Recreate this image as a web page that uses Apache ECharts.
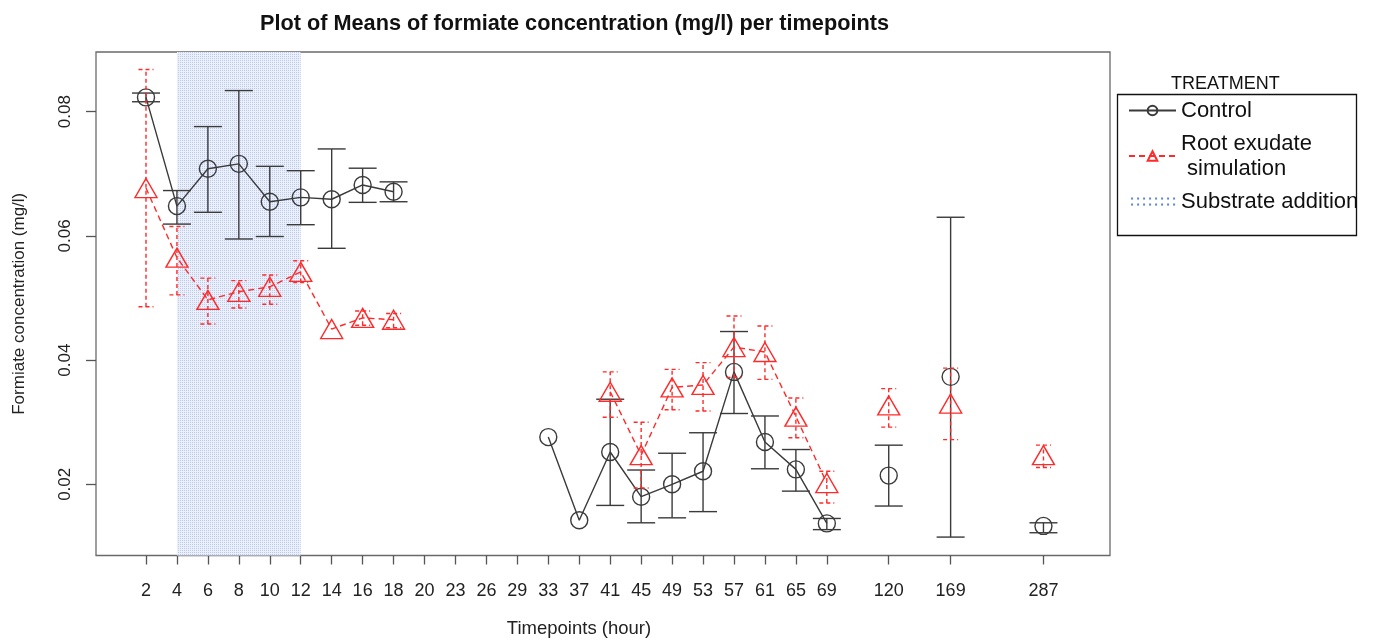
<!DOCTYPE html>
<html><head><meta charset="utf-8">
<script src="https://cdn.jsdelivr.net/npm/echarts@6/dist/echarts.min.js"></script>
<style>html,body{margin:0;padding:0;background:#fff}#c{width:1375px;height:642px}</style>
</head><body><div id="c"></div>
<script>
// ---- data ----
const timepoints = ['2','4','6','8','10','12','14','16','18','20','23','26','29','33','37','41','45','49','53','57','61','65','69','120','169','287'];
const controlMean = [0.0823,0.0648,0.0708,0.0716,0.0655,0.0662,0.0659,0.0682,0.0671,null,null,null,null,0.0276,0.0142,0.0252,0.0180,0.0200,0.0221,0.0381,0.0268,0.0224,0.0137,0.0214,0.0373,0.0133];
const controlLow  = [0.0816,0.0619,0.0638,0.0595,0.0599,0.0618,0.0580,0.0654,0.0655,null,null,null,null,null,null,0.0166,0.0138,0.0146,0.0156,0.0314,0.0225,0.0189,0.0127,0.0165,0.0115,0.0122];
const controlHigh = [0.0830,0.0673,0.0776,0.0834,0.0712,0.0705,0.0740,0.0709,0.0687,null,null,null,null,null,null,0.0337,0.0223,0.0250,0.0283,0.0446,0.0310,0.0256,0.0145,0.0263,0.0630,0.0138];
const rootMean = [0.0677,0.0565,0.0497,0.0510,0.0518,0.0542,0.0450,0.0468,0.0465,null,null,null,null,null,null,0.0349,0.0247,0.0356,0.0360,0.0421,0.0413,0.0309,0.0202,0.0327,0.0330,0.0247];
const rootLow  = [0.0486,0.0505,0.0458,0.0484,0.0490,0.0525,null,0.0456,0.0452,null,null,null,null,null,null,0.0308,0.0194,0.0320,0.0318,0.0372,0.0369,0.0275,0.0170,0.0292,0.0272,0.0227];
const rootHigh = [0.0868,0.0615,0.0532,0.0528,0.0537,0.0560,null,0.0479,0.0475,null,null,null,null,null,null,0.0381,0.0300,0.0385,0.0396,0.0471,0.0455,0.0339,0.0221,0.0354,0.0387,0.0263];
const substrateWindow = ['4','12'];
const yTickValues = [0.02,0.04,0.06,0.08];
const seriesNames = ['Control','Root exudate\n simulation','Substrate addition'];

// ---- layout helpers ----
const extraGap = {'120':1,'169':1,'287':2};
const pos = []; let acc = 0;
timepoints.forEach(t => { acc += 1 + (extraGap[t] || 0); pos.push(acc); });
const labelAt = {}; timepoints.forEach((t,i) => labelAt[pos[i]] = t);

function lineData(vals){
  const out = [];
  vals.forEach((v,i) => {
    if (i > 0 && pos[i] - pos[i-1] > 1) out.push([pos[i]-1, '-']);
    out.push([pos[i], v == null ? '-' : v]);
  });
  return out;
}
function errData(lo, hi){
  const out = [];
  lo.forEach((l,i) => { if (l != null && hi[i] != null) out.push([pos[i], l, hi[i]]); });
  return out;
}
function pattern(size, bg, dots){
  const c = document.createElement('canvas'); c.width = c.height = size;
  const g = c.getContext('2d');
  if (bg) { g.fillStyle = bg; g.fillRect(0,0,size,size); }
  dots.forEach(d => { g.fillStyle = d[3]; g.fillRect(d[0], d[1], d[2], d[2]); });
  return { image: c, repeat: 'repeat' };
}
const areaPattern = pattern(2, '#ebf0fb', [[0,0,1,'#b9c9f0']]);
const legendPattern = pattern(6, '#ffffff', [[2,2,2,'#5f86de']]);

const FONT = 'Liberation Sans, Arial, sans-serif';
const BLACK = '#3a3a3a', RED = '#ff2a2a';

function errRender(color, capHalf, dash){
  return function(params, api){
    const x = api.value(0), lo = api.value(1), hi = api.value(2);
    const a = api.coord([x, lo]), b = api.coord([x, hi]);
    const st = { stroke: color, lineWidth: 1.4, lineDash: dash };
    return { type: 'group', children: [
      { type: 'line', shape: { x1: a[0], y1: a[1], x2: b[0], y2: b[1] }, style: st },
      { type: 'line', shape: { x1: a[0]-capHalf, y1: a[1], x2: a[0]+capHalf, y2: a[1] }, style: st },
      { type: 'line', shape: { x1: b[0]-capHalf, y1: b[1], x2: b[0]+capHalf, y2: b[1] }, style: st }
    ]};
  };
}

const chart = echarts.init(document.getElementById('c'), null, { renderer: 'canvas' });
chart.setOption({
  animation: false,
  backgroundColor: '#ffffff',
  title: {
    text: 'Plot of Means of formiate concentration (mg/l) per timepoints',
    left: 255, top: 8,
    textStyle: { fontFamily: FONT, fontSize: 21.7, fontWeight: 'bold', color: '#111' }
  },
  grid: { left: 96, right: 265, top: 52, bottom: 86.5, show: true, borderColor: '#6a6a6a', borderWidth: 1.3,
          containLabel: false, outerBoundsMode: 'none' },
  xAxis: {
    type: 'value', min: -0.6155, max: 32.15,
    name: 'Timepoints (hour)', nameLocation: 'middle', nameGap: 64,
    nameTextStyle: { fontFamily: FONT, fontSize: 18.5, color: '#222', padding: [0, 48, 0, 0] },
    axisLine: { show: false, onZero: false },
    splitLine: { show: false },
    axisTick: { show: true, inside: false, length: 9, customValues: pos, lineStyle: { color: '#555', width: 1.3 } },
    axisLabel: { customValues: pos, margin: 27, fontFamily: FONT, fontSize: 18, color: '#222',
      formatter: v => labelAt[Math.round(v)] || '' }
  },
  yAxis: {
    type: 'value', min: 0.008535, max: 0.08961,
    name: 'Formiate concentration (mg/l)', nameLocation: 'middle', nameGap: 68,
    nameTextStyle: { fontFamily: FONT, fontSize: 17, color: '#222' },
    axisLine: { show: false, onZero: false },
    splitLine: { show: false },
    axisTick: { show: true, inside: false, length: 10, customValues: yTickValues, lineStyle: { color: '#555', width: 1.3 } },
    axisLabel: { customValues: yTickValues, rotate: 90, margin: 22, fontFamily: FONT, fontSize: 17, color: '#222',
      formatter: v => v.toFixed(2) }
  },
  legend: {
    orient: 'vertical', left: 1128, top: 98, padding: 0,
    itemWidth: 47, itemHeight: 12, itemGap: 8,
    textStyle: { fontFamily: FONT, fontSize: 22, lineHeight: 25, color: '#111' },
    data: [
      { name: seriesNames[0] },
      { name: seriesNames[1] },
      { name: seriesNames[2], icon: 'rect', itemStyle: { color: legendPattern } }
    ]
  },
  graphic: [
    { type: 'text', left: 1171, top: 75, style: { text: 'TREATMENT', font: '18px ' + FONT, fill: '#111' }, z: 100 },
    { type: 'rect', shape: { x: 1117.5, y: 94.5, width: 239, height: 141 }, style: { fill: 'none', stroke: '#111', lineWidth: 1.3 }, z: 100 }
  ],
  series: [
    {
      name: seriesNames[2], type: 'line', data: [], silent: true,
      itemStyle: { color: legendPattern },
      markArea: { silent: true, itemStyle: { color: areaPattern },
        data: [[ { xAxis: pos[timepoints.indexOf(substrateWindow[0])] }, { xAxis: pos[timepoints.indexOf(substrateWindow[1])] } ]] }
    },
    {
      name: seriesNames[0] + ' err', type: 'custom', renderItem: errRender(BLACK, 14, null),
      data: errData(controlLow, controlHigh), encode: { x: 0, y: [1,2] }, silent: true, z: 3
    },
    {
      name: seriesNames[0], type: 'line', data: lineData(controlMean), connectNulls: false,
      symbol: 'circle', symbolSize: 17,
      itemStyle: { color: 'rgba(0,0,0,0)', borderColor: BLACK, borderWidth: 1.4 },
      lineStyle: { color: BLACK, width: 1.4 }, z: 4
    },
    {
      name: seriesNames[1] + ' err', type: 'custom', renderItem: errRender(RED, 7.5, [4,3]),
      data: errData(rootLow, rootHigh), encode: { x: 0, y: [1,2] }, silent: true, z: 5
    },
    {
      name: seriesNames[1], type: 'line', data: lineData(rootMean), connectNulls: false,
      symbol: 'triangle', symbolSize: [22, 19],
      itemStyle: { color: 'rgba(0,0,0,0)', borderColor: RED, borderWidth: 1.4 },
      lineStyle: { color: RED, width: 1.4, type: [6,4] }, z: 6
    }
  ]
});
</script></body></html>
